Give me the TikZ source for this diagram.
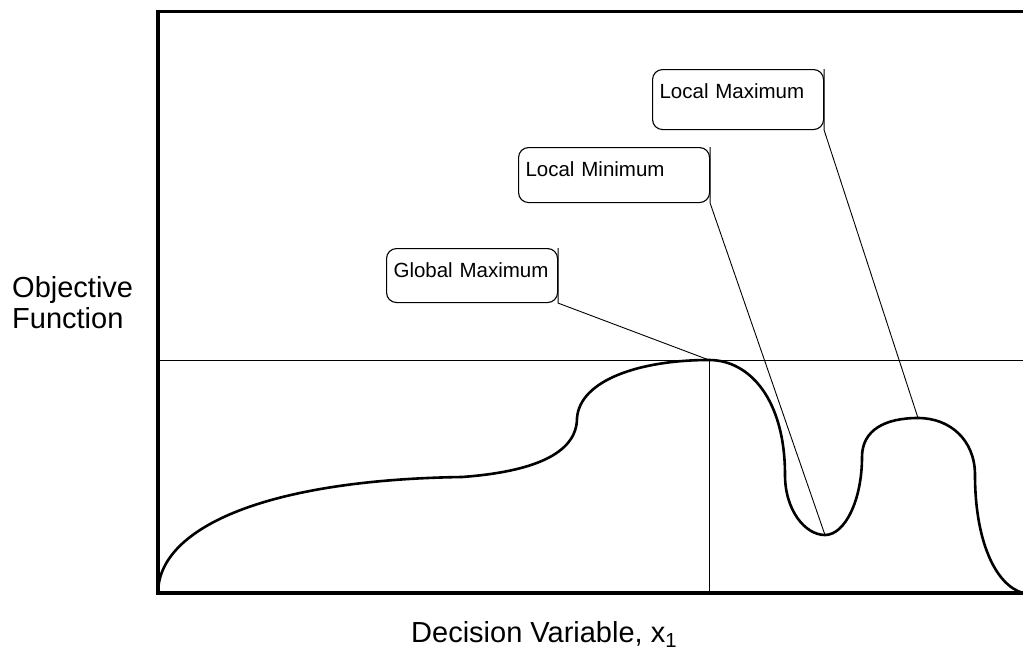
\documentclass[tikz,border=0pt]{standalone}
\usepackage{fontspec}
\setmainfont{Liberation Sans}
\usetikzlibrary{calc}
\begin{document}
\begin{tikzpicture}[x=1pt,y=-1pt,
  frame/.style={line width=3.5pt},
  guide/.style={line width=0.9pt},
  profile/.style={line width=2.6pt, line join=round},
  leader/.style={line width=0.9pt},
  callout/.style={draw, line width=1.1pt, rounded corners=10pt, anchor=north west,
    inner xsep=7pt, inner ysep=0pt, text height=29pt, align=left,
    font=\fontsize{20.5}{24}\selectfont},
  axislabel/.style={inner sep=0pt, anchor=base west, font=\fontsize{29}{34}\selectfont}]
\useasboundingbox (0,0) rectangle (1023,653);

% plot frame (right side runs off the page)
\coordinate (tr) at (1030,11.5);
\coordinate (tl) at (158,11.5);
\coordinate (bl) at (158,593);
\coordinate (br) at (1030,593);
\draw[frame] (tr) -- (tl) -- (bl) -- (br);

% points on the objective curve
\coordinate (o) at (158,593);
\coordinate (k1) at (462,477);
\coordinate (k2) at (577,418);
\coordinate (gpeak) at (709,360);
\coordinate (k3) at (785,475);
\coordinate (lminpt) at (825,535);
\coordinate (k4) at (862,457);
\coordinate (lmaxpt) at (918,418);
\coordinate (k5) at (975,475);
\coordinate (xend) at (1023,593);

% guide lines through the global maximum
\coordinate (hl) at (158,360);
\coordinate (hr) at (1030,360);
\draw[guide] (hl) -- (hr);
\draw[guide] (gpeak) -- (gpeak |- o);

% objective function
\draw[profile] (o) .. controls (158,530) and (260,480) .. (k1)
  .. controls (530,472) and (577,455) .. (k2)
  .. controls (580,380) and (640,360) .. (gpeak)
  .. controls (750,360) and (785,400) .. (k3)
  .. controls (785,510) and (805,535) .. (lminpt)
  .. controls (845,535) and (862,500) .. (k4)
  .. controls (862,430) and (885,418) .. (lmaxpt)
  .. controls (950,418) and (975,440) .. (k5)
  .. controls (975,540) and (995,585) .. (xend);

% callouts
\node[callout, text width=157pt, text depth=25pt] (gmax) at (386,248) {Global Maximum};
\node[callout, text width=177pt, text depth=26pt] (lmin) at (518,147) {Local Minimum};
\node[callout, text width=157pt, text depth=31pt] (lmax) at (652,69) {Local Maximum};

\draw[leader] (gmax.north east) -- (gmax.south east) -- (gpeak);
\draw[leader] (lmin.north east) -- (lmin.south east) -- (lminpt);
\draw[leader] (lmax.north east) -- (lmax.south east) -- (lmaxpt);

% axis labels
\node[axislabel] (ylab1) at (12,297) {Objective};
\node[axislabel] (ylab2) at (12,328) {Function};
\node[axislabel] (xlab) at (411,642) {Decision Variable, x\textsubscript{1}};
\end{tikzpicture}
\end{document}
